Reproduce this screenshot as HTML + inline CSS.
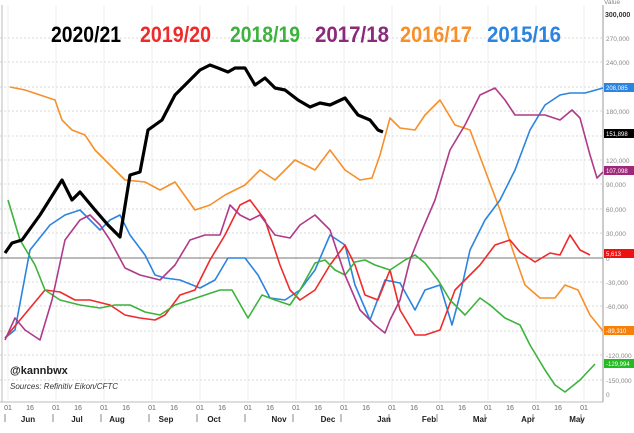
<!DOCTYPE html>
<html><head><style>
html,body{margin:0;padding:0;background:#fff;width:634px;height:433px;overflow:hidden;font-family:"Liberation Sans",Arial,sans-serif}
</style></head><body>
<svg width="634" height="433" xmlns="http://www.w3.org/2000/svg" font-family="Liberation Sans, Arial, sans-serif">
<rect x="0" y="0" width="634" height="433" fill="#fff"/>
<g stroke="#ccc" stroke-width="0.7" stroke-dasharray="2,2">
<line x1="0" x2="603" y1="38" y2="38"/><line x1="0" x2="603" y1="62" y2="62"/><line x1="0" x2="603" y1="87" y2="87"/>
<line x1="0" x2="603" y1="111" y2="111"/><line x1="0" x2="603" y1="136" y2="136"/><line x1="0" x2="603" y1="160" y2="160"/>
<line x1="0" x2="603" y1="184" y2="184"/><line x1="0" x2="603" y1="209" y2="209"/><line x1="0" x2="603" y1="233" y2="233"/>
<line x1="0" x2="603" y1="282" y2="282"/><line x1="0" x2="603" y1="306" y2="306"/><line x1="0" x2="603" y1="331" y2="331"/>
<line x1="0" x2="603" y1="355" y2="355"/><line x1="0" x2="603" y1="380" y2="380"/>
</g>
<g stroke="#e6e6e6" stroke-width="0.7">
<line x1="8" x2="8" y1="5" y2="400"/><line x1="56" x2="56" y1="5" y2="400"/><line x1="104" x2="104" y1="5" y2="400"/><line x1="152" x2="152" y1="5" y2="400"/><line x1="200" x2="200" y1="5" y2="400"/><line x1="248" x2="248" y1="5" y2="400"/><line x1="296" x2="296" y1="5" y2="400"/><line x1="344" x2="344" y1="5" y2="400"/><line x1="392" x2="392" y1="5" y2="400"/><line x1="440" x2="440" y1="5" y2="400"/><line x1="488" x2="488" y1="5" y2="400"/><line x1="536" x2="536" y1="5" y2="400"/><line x1="584" x2="584" y1="5" y2="400"/>
</g>
<line x1="2" x2="2" y1="5" y2="402" stroke="#bbb" stroke-width="1"/>
<line x1="0" x2="603" y1="258" y2="258" stroke="#777" stroke-width="1"/>
<line x1="603" x2="603" y1="5" y2="402" stroke="#999" stroke-width="1"/>
<line x1="0" x2="603" y1="402" y2="402" stroke="#bbb" stroke-width="1"/>
<g fill="none" stroke-width="1.6" stroke-linejoin="round">
<polyline stroke="#f7902a" points="10,87 25,90 40,95 55,100 62,120 72,130 85,135 95,150 110,165 125,180 145,182 160,190 175,182 195,210 210,205 225,195 245,185 260,170 275,180 295,160 315,170 330,150 345,170 360,180 372,178 380,155 390,118 400,128 415,130 425,115 440,100 455,125 470,130 485,170 500,210 512,248 525,285 540,298 555,298 565,285 578,290 590,315 603,331"/>
<polyline stroke="#2b84e0" points="5,338 15,330 30,250 50,225 65,215 80,210 90,220 100,230 110,220 120,215 130,235 145,255 155,275 165,278 180,280 200,288 215,280 228,258 245,258 258,275 270,298 285,300 300,290 315,270 330,235 345,245 355,285 370,320 385,280 400,283 415,310 425,290 440,285 452,325 460,295 470,250 485,220 500,200 515,170 530,130 545,105 560,95 570,93 585,93 603,88"/>
<polyline stroke="#ef2a2a" points="5,338 20,320 45,290 60,292 75,300 90,300 110,305 125,315 140,318 155,320 165,315 180,295 195,290 210,260 225,235 240,205 250,200 265,220 280,265 290,290 300,300 315,290 330,265 345,245 355,265 365,295 378,300 390,270 400,310 415,335 425,335 440,330 455,290 465,280 480,265 495,245 510,240 520,252 535,262 550,253 560,255 570,235 580,250 590,255"/>
<polyline stroke="#3db33d" points="8,200 20,240 35,265 45,290 60,300 80,305 100,308 115,305 130,305 145,312 160,315 175,305 190,300 205,295 220,290 232,290 248,318 262,295 275,300 290,305 300,290 315,263 325,260 335,270 345,275 355,262 365,260 375,265 390,270 405,260 415,255 425,263 438,280 450,300 465,315 480,298 490,305 505,318 520,325 530,345 545,370 555,385 565,392 580,380 595,364"/>
<polyline stroke="#b03a8a" points="5,340 15,318 25,330 40,340 52,300 65,240 80,220 90,215 100,225 110,240 125,268 140,275 160,280 175,265 190,240 205,235 220,235 230,205 240,215 250,220 260,215 275,235 290,238 300,225 315,215 330,230 345,275 360,310 375,325 385,333 390,320 400,300 410,260 420,235 435,200 450,150 465,125 480,95 495,88 505,100 515,115 535,115 545,115 560,120 572,110 580,118 590,155 597,178 603,172"/>
<polyline stroke="#000" stroke-width="3.2" points="5,253 12,243 22,240 40,215 62,180 72,200 80,192 95,210 108,225 120,237 130,175 140,172 148,130 155,125 162,120 175,95 190,80 200,70 210,65 218,68 228,72 235,68 245,68 255,85 265,78 275,88 285,90 298,100 310,107 320,103 330,105 345,98 358,115 370,120 378,130 383,132"/>
</g>
<g font-size="22" font-weight="bold">
<text x="51" y="42" fill="#000" textLength="70" lengthAdjust="spacingAndGlyphs">2020/21</text>
<text x="140" y="42" fill="#ef2a2a" textLength="71" lengthAdjust="spacingAndGlyphs">2019/20</text>
<text x="230" y="42" fill="#3db33d" textLength="70" lengthAdjust="spacingAndGlyphs">2018/19</text>
<text x="315" y="42" fill="#8a2a7a" textLength="74" lengthAdjust="spacingAndGlyphs">2017/18</text>
<text x="400" y="42" fill="#f7902a" textLength="72" lengthAdjust="spacingAndGlyphs">2016/17</text>
<text x="487" y="42" fill="#2b84e0" textLength="74" lengthAdjust="spacingAndGlyphs">2015/16</text>
</g>
<g font-size="6.5" fill="#888">
<text x="604" y="4">Value</text>
<text x="605" y="17" font-weight="bold" font-size="7" fill="#333">300,000</text>
<text x="606" y="41">270,000</text><text x="606" y="65">240,000</text>
<text x="606" y="114">180,000</text><text x="606" y="163">120,000</text><text x="606" y="187">90,000</text>
<text x="606" y="212">60,000</text><text x="606" y="236">30,000</text><text x="606" y="261">0</text>
<text x="606" y="285">-30,000</text><text x="606" y="309">-60,000</text><text x="606" y="358">-120,000</text><text x="606" y="383">-150,000</text><text x="606" y="397">0</text>
</g>
<g font-size="6" fill="#fff">
<rect x="604" y="83" width="30" height="9" fill="#2b84e0"/><text x="606" y="90">208,085</text>
<rect x="604" y="129" width="30" height="9" fill="#000"/><text x="606" y="136">151,898</text>
<rect x="604" y="166" width="30" height="9" fill="#a0287a"/><text x="606" y="173">107,098</text>
<rect x="604" y="249" width="30" height="9" fill="#ee1111"/><text x="606" y="256">5,613</text>
<rect x="604" y="326" width="30" height="9" fill="#f7800a"/><text x="606" y="333">-89,310</text>
<rect x="604" y="359" width="30" height="9" fill="#22bb22"/><text x="606" y="366">-129,994</text>
</g>
<text x="10" y="374" font-size="11" font-weight="bold" fill="#222">@kannbwx</text>
<text x="10" y="389" font-size="8" font-style="italic" fill="#333">Sources: Refinitiv Eikon/CFTC</text>
<g font-size="7" fill="#666" text-anchor="middle">
<text x="8" y="410">01</text><text x="30" y="410">16</text><text x="56" y="410">01</text><text x="78" y="410">16</text><text x="104" y="410">01</text><text x="126" y="410">16</text><text x="152" y="410">01</text><text x="174" y="410">16</text><text x="200" y="410">01</text><text x="222" y="410">16</text><text x="248" y="410">01</text><text x="270" y="410">16</text><text x="296" y="410">01</text><text x="318" y="410">16</text><text x="344" y="410">01</text><text x="366" y="410">16</text><text x="392" y="410">01</text><text x="414" y="410">16</text><text x="440" y="410">01</text><text x="462" y="410">16</text><text x="488" y="410">01</text><text x="510" y="410">16</text><text x="536" y="410">01</text><text x="558" y="410">16</text><text x="584" y="410">01</text>
</g>
<g stroke="#888" stroke-width="1">
<line x1="5" x2="5" y1="414" y2="422"/><line x1="53" x2="53" y1="414" y2="422"/><line x1="101" x2="101" y1="414" y2="422"/><line x1="149" x2="149" y1="414" y2="422"/><line x1="197" x2="197" y1="414" y2="422"/><line x1="245" x2="245" y1="414" y2="422"/><line x1="293" x2="293" y1="414" y2="422"/><line x1="341" x2="341" y1="414" y2="422"/><line x1="389" x2="389" y1="414" y2="422"/><line x1="437" x2="437" y1="414" y2="422"/><line x1="485" x2="485" y1="414" y2="422"/><line x1="533" x2="533" y1="414" y2="422"/><line x1="581" x2="581" y1="414" y2="422"/>
</g>
<g font-size="8" font-weight="bold" fill="#222" text-anchor="middle">
<text x="28" y="422">Jun</text><text x="77" y="422">Jul</text><text x="117" y="422">Aug</text><text x="166" y="422">Sep</text><text x="214" y="422">Oct</text><text x="279" y="422">Nov</text><text x="328" y="422">Dec</text><text x="384" y="422">Jan</text><text x="429" y="422">Feb</text><text x="480" y="422">Mar</text><text x="528" y="422">Apr</text><text x="577" y="422">May</text>
</g>
</svg>
</body></html>
